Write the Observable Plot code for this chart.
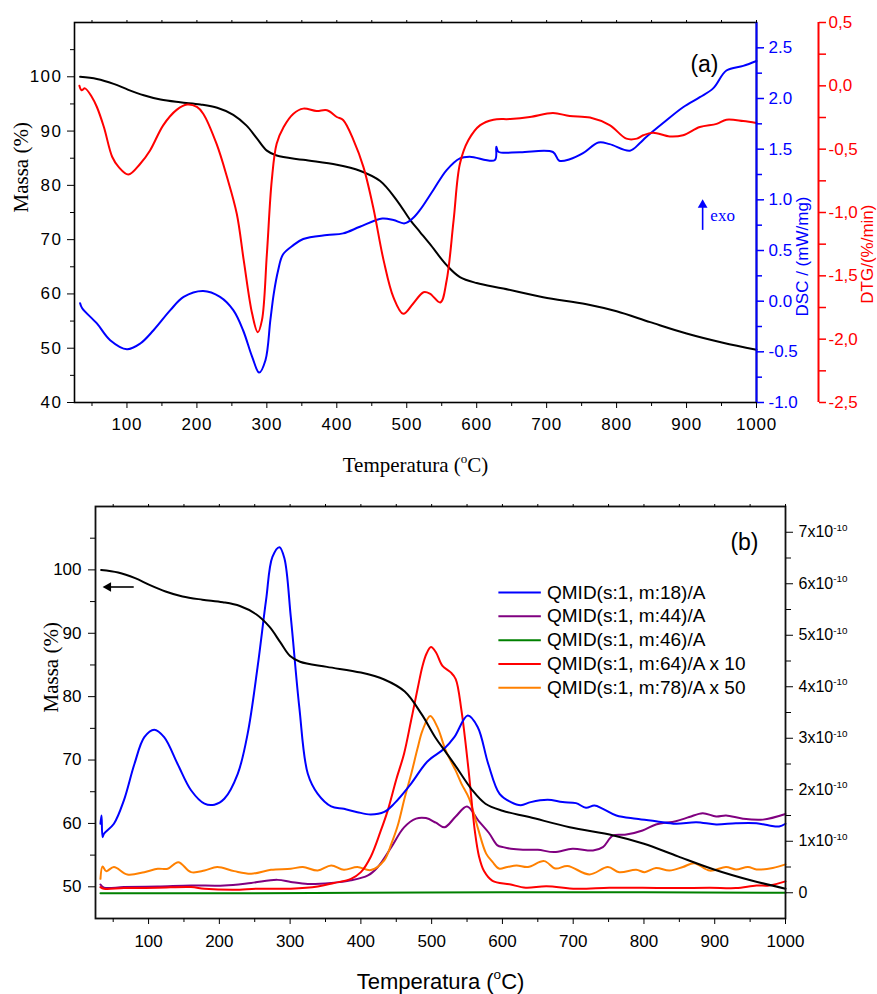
<!DOCTYPE html>
<html>
<head>
<meta charset="utf-8">
<script src="https://cdn.jsdelivr.net/npm/d3@7"></script>
<script src="https://cdn.jsdelivr.net/npm/@observablehq/plot@0.6"></script>
<style>
  body { margin: 0; background: #fff; }
  #chart { width: 877px; }
  #chart svg { display: block; }
</style>
</head>
<body>
<div id="chart"></div>
<script>
// ---------------- DATA ----------------
// Panel (a): TG (Massa %), DSC (mW/mg), DTG (%/min)
const tgTemp  = [33, 57, 81, 102, 124, 148, 176, 205, 229, 252, 271, 286, 300, 314, 352, 400, 433, 462, 486, 505, 519, 533, 557, 576, 600, 638, 695, 757, 800, 848, 900, 952, 1000];
const tgMassa = [100, 99.6, 98.7, 97.6, 96.6, 95.8, 95.3, 94.9, 94.3, 93.0, 91.0, 88.6, 86.4, 85.5, 84.7, 83.8, 82.7, 80.8, 77.2, 73.6, 71.4, 69.2, 65.3, 63.1, 62.0, 61.0, 59.4, 58.1, 56.8, 54.8, 52.7, 51.0, 49.7];

const dtgTemp = [32, 35, 40, 50, 57, 67, 79, 88, 102, 119, 133, 152, 171, 186, 200, 209, 228, 243, 257, 267, 279, 287, 293, 300, 307, 314, 324, 338, 352, 371, 386, 400, 409, 424, 438, 452, 467, 481, 495, 509, 524, 533, 548, 557, 567, 576, 588, 605, 624, 648, 676, 709, 733, 762, 790, 814, 829, 838, 852, 876, 895, 919, 943, 957, 981, 1000];
const dtgVal  = [0.0, -0.035, -0.02, -0.09, -0.167, -0.325, -0.562, -0.64, -0.70, -0.615, -0.51, -0.31, -0.19, -0.148, -0.167, -0.22, -0.457, -0.72, -1.01, -1.38, -1.80, -1.946, -1.85, -1.33, -0.747, -0.457, -0.325, -0.22, -0.18, -0.199, -0.193, -0.246, -0.27, -0.43, -0.64, -0.958, -1.38, -1.67, -1.80, -1.72, -1.63, -1.64, -1.71, -1.537, -1.06, -0.615, -0.43, -0.31, -0.267, -0.262, -0.246, -0.215, -0.238, -0.25, -0.31, -0.417, -0.417, -0.39, -0.37, -0.40, -0.39, -0.325, -0.30, -0.267, -0.278, -0.294];

const dscTemp = [33, 36, 57, 76, 100, 119, 138, 162, 181, 209, 233, 252, 266, 279, 289, 298, 305, 310, 316, 323, 338, 352, 386, 409, 433, 465, 481, 497, 509, 519, 538, 557, 576, 590, 626, 628, 631, 662, 709, 718, 733, 752, 774, 790, 819, 833, 842, 866, 895, 919, 938, 957, 981, 1000];
const dscVal  = [-0.02, -0.07, -0.22, -0.385, -0.474, -0.418, -0.287, -0.089, 0.042, 0.10, 0.042, -0.089, -0.287, -0.55, -0.705, -0.583, -0.188, 0.08, 0.30, 0.46, 0.553, 0.613, 0.652, 0.669, 0.734, 0.815, 0.80, 0.768, 0.82, 0.90, 1.097, 1.294, 1.41, 1.426, 1.393, 1.525, 1.475, 1.47, 1.472, 1.386, 1.40, 1.46, 1.565, 1.55, 1.485, 1.558, 1.617, 1.755, 1.914, 2.013, 2.10, 2.276, 2.322, 2.37];

// Panel (b): QMID ion currents (units of 1e-10 A)
const q18Temp = [32, 33.5, 35, 37, 51, 65, 80, 94, 108, 122, 141, 160, 179, 193, 207, 226, 240, 254, 266, 275, 285, 292, 301, 313, 325, 339, 358, 376, 395, 414, 433, 447, 471, 494, 518, 532, 551, 565, 580, 596, 612, 626, 640, 664, 685, 704, 718, 730, 742, 761, 789, 817, 845, 874, 902, 930, 959, 977, 991, 1000];
const q18Val  = [1.34, 1.50, 1.08, 1.146, 1.34, 1.79, 2.50, 3.02, 3.165, 3.02, 2.50, 1.99, 1.73, 1.71, 1.825, 2.31, 3.09, 4.38, 5.68, 6.52, 6.71, 6.49, 5.35, 3.60, 2.31, 1.92, 1.676, 1.63, 1.565, 1.52, 1.57, 1.73, 2.12, 2.55, 2.80, 3.02, 3.44, 3.22, 2.50, 1.92, 1.76, 1.70, 1.76, 1.805, 1.76, 1.74, 1.65, 1.695, 1.63, 1.50, 1.437, 1.39, 1.34, 1.37, 1.326, 1.35, 1.35, 1.307, 1.287, 1.34];

const q44Temp = [32, 37, 65, 113, 160, 207, 245, 282, 301, 325, 358, 386, 410, 424, 443, 461, 478, 492, 506, 518, 534, 550, 566, 581, 593, 601, 612, 629, 650, 673, 699, 728, 742, 756, 775, 798, 817, 845, 864, 883, 902, 916, 940, 968, 1000];
const q44Val  = [0.16, 0.10, 0.11, 0.12, 0.14, 0.14, 0.19, 0.25, 0.21, 0.17, 0.19, 0.24, 0.336, 0.50, 0.886, 1.27, 1.44, 1.45, 1.36, 1.27, 1.48, 1.675, 1.40, 1.16, 0.92, 0.886, 0.854, 0.835, 0.835, 0.79, 0.854, 0.82, 0.886, 1.11, 1.13, 1.21, 1.326, 1.39, 1.47, 1.546, 1.48, 1.50, 1.437, 1.42, 1.53];

const q46Temp = [32, 200, 400, 600, 800, 1000];
const q46Val  = [-0.01, -0.01, 0.0, 0.01, 0.01, 0.0];

const q64Temp = [32, 37, 65, 113, 160, 179, 221, 254, 301, 339, 362, 386, 400, 414, 428, 438, 450, 461, 471, 480, 487, 493, 499, 506, 515, 527, 534, 542, 552, 561, 567, 574, 586, 610, 633, 662, 704, 751, 798, 845, 893, 930, 959, 977, 1000];
const q64Val  = [0.11, 0.078, 0.09, 0.097, 0.11, 0.078, 0.058, 0.078, 0.078, 0.12, 0.19, 0.27, 0.40, 0.70, 1.2, 1.6, 2.2, 2.7, 3.35, 3.95, 4.4, 4.65, 4.77, 4.67, 4.41, 4.28, 4.15, 3.55, 2.4, 1.2, 0.7, 0.42, 0.23, 0.165, 0.097, 0.128, 0.078, 0.097, 0.097, 0.09, 0.097, 0.09, 0.14, 0.14, 0.22];

const q78Temp = [32, 35, 40, 51, 70, 94, 113, 127, 142, 160, 179, 197, 221, 245, 273, 301, 318, 339, 358, 376, 395, 414, 433, 443, 452, 462, 471, 480, 487, 498, 508, 520, 534, 542, 553, 565, 577, 586, 595, 607, 620, 636, 659, 675, 692, 723, 749, 765, 789, 801, 817, 836, 855, 871, 893, 916, 930, 947, 959, 982, 1000];
const q78Val  = [0.27, 0.51, 0.42, 0.50, 0.355, 0.40, 0.466, 0.466, 0.594, 0.40, 0.43, 0.50, 0.42, 0.37, 0.446, 0.466, 0.50, 0.43, 0.53, 0.446, 0.50, 0.44, 0.63, 0.95, 1.3, 1.85, 2.3, 2.8, 3.15, 3.43, 3.22, 2.76, 2.37, 2.12, 1.83, 1.27, 0.76, 0.60, 0.47, 0.50, 0.53, 0.50, 0.614, 0.47, 0.52, 0.355, 0.50, 0.40, 0.446, 0.40, 0.48, 0.43, 0.50, 0.575, 0.43, 0.50, 0.453, 0.50, 0.453, 0.48, 0.55];

const seriesNames  = ["QMID(s:1, m:18)/A", "QMID(s:1, m:44)/A", "QMID(s:1, m:46)/A", "QMID(s:1, m:64)/A x 10", "QMID(s:1, m:78)/A x 50"];
const seriesColors = ["#0000ff", "#800080", "#008000", "#ff0000", "#ff8000"];

// tick values
const xMajor = d3.range(100, 1001, 100);
const xMinor = d3.range(50, 1000, 100);
const massaTicksA = d3.range(40, 101, 10);
const massaMinorA = d3.range(45, 110, 10);
const dscTicks = [-1.0, -0.5, 0.0, 0.5, 1.0, 1.5, 2.0, 2.5];
const dscMinor = [-0.75, -0.25, 0.25, 0.75, 1.25, 1.75, 2.25];
const dtgTicks = [-2.5, -2.0, -1.5, -1.0, -0.5, 0.0, 0.5];
const dtgMinor = [-2.25, -1.75, -1.25, -0.75, -0.25, 0.25];
const massaTicksB = d3.range(50, 101, 10);
const massaMinorB = d3.range(55, 110, 10);
const qTicks = [0, 1, 2, 3, 4, 5, 6, 7];
const qMinor = [0.5, 1.5, 2.5, 3.5, 4.5, 5.5, 6.5];

// ---------------- SETUP ----------------
const SANS = "'Liberation Sans', Arial, Helvetica, sans-serif";
const SERIF = "'Liberation Serif', 'Times New Roman', serif";
const BLUE = "#0000ff", RED = "#ff0000";
const X_DOMAIN = [25, 1000];
const massaA = [40, 110];
const massaB = [45, 110];
const fDSC = d3.scaleLinear([-1, 2.75], massaA);   // DSC -> Massa axis (a)
const fDTG = d3.scaleLinear([-2.5, 0.5], massaA);  // DTG -> Massa axis (a)
const fQ   = d3.scaleLinear([-0.5, 7.5], massaB);  // ion current -> Massa axis (b)

const rows = (ts, vs) => ts.map((t, i) => ({t, v: vs[i]}));
const tgRows = rows(tgTemp, tgMassa);
const dtgRows = rows(dtgTemp, dtgVal);
const dscRows = rows(dscTemp, dscVal);
const qSeries = [
  rows(q18Temp, q18Val), rows(q44Temp, q44Val), rows(q46Temp, q46Val),
  rows(q64Temp, q64Val), rows(q78Temp, q78Val)
];

const clean = v => Math.round(v * 100) / 100;
const fmtX = d => String(d);

// annotations (data units)
const exoArrow = [{t: 923, m1: 71.8, m2: 76.4}];
const exoLabel = [{t: 934, m: 73.5, s: "exo"}];
const massArrow = [{t1: 79, t2: 43, m: 97.3}];
const LEG_TOP = 96.43, LEG_STEP = 3.76, LEG_X1 = 595, LEG_X2 = 655, LEG_TX = 663;
const legendRows = seriesNames.map((name, i) => ({name, color: seriesColors[i], m: LEG_TOP - i * LEG_STEP}));

// ---------------- PANEL (a) ----------------
const plotA = Plot.plot({
  width: 877, height: 480,
  marginLeft: 74, marginRight: 121, marginTop: 22, marginBottom: 78,
  style: {fontFamily: SANS, fontSize: "17px", background: "white", color: "black", overflow: "visible"},
  x: {domain: X_DOMAIN},
  y: {domain: massaA},
  marks: [
    Plot.line(tgRows, {x: "t", y: "v", stroke: "black", strokeWidth: 2, curve: "catmull-rom"}),
    Plot.line(dscRows, {x: "t", y: d => fDSC(d.v), stroke: BLUE, strokeWidth: 2, curve: "catmull-rom"}),
    Plot.line(dtgRows, {x: "t", y: d => fDTG(d.v), stroke: RED, strokeWidth: 2, curve: "catmull-rom"}),
    Plot.frame({stroke: "black", strokeWidth: 1.6}),
    Plot.ruleX([X_DOMAIN[1]], {stroke: BLUE, strokeWidth: 2}),
    Plot.ruleX([X_DOMAIN[1]], {stroke: RED, strokeWidth: 2, dx: 62}),
    // left axis
    Plot.axisY(massaTicksA, {anchor: "left", tickSize: 7, tickPadding: 5, fontSize: 17, label: null}),
    Plot.axisY(massaMinorA, {anchor: "left", tickSize: 4, fill: "none", label: null}),
    // bottom / top axis
    Plot.axisX(xMajor, {anchor: "bottom", tickSize: 6, tickPadding: 9, fontSize: 17, tickFormat: fmtX, label: null}),
    Plot.axisX(xMinor, {anchor: "bottom", tickSize: 4, fill: "none", label: null}),
    Plot.axisX(xMajor.concat(xMinor), {anchor: "top", tickSize: 3, fill: "none", label: null}),
    // DSC axis
    Plot.axisY(dscTicks.map(fDSC), {anchor: "right", tickSize: 7, tickPadding: 5, stroke: BLUE, fill: BLUE, strokeWidth: 1.5, fontSize: 17,
      tickFormat: d => clean(fDSC.invert(d)).toFixed(1), label: null}),
    Plot.axisY(dscMinor.map(fDSC), {anchor: "right", tickSize: 5, stroke: BLUE, fill: "none", strokeWidth: 1.5, label: null}),
    // DTG axis
    Plot.axisY(dtgTicks.map(fDTG), {anchor: "right", dx: 62, tickSize: 7, tickPadding: 3, stroke: RED, fill: RED, strokeWidth: 1.5, fontSize: 17,
      tickFormat: d => clean(fDTG.invert(d)).toFixed(1).replace(".", ","), label: null}),
    Plot.axisY(dtgMinor.map(fDTG), {anchor: "right", dx: 62, tickSize: 7, stroke: RED, fill: "none", strokeWidth: 1.5, label: null}),
    // titles
    Plot.text(["Massa (%)"], {text: d => d, frameAnchor: "left", dx: -53, rotate: -90, fontFamily: SERIF, fontSize: 21}),
    Plot.text(["Temperatura (^o^C)"], {text: d => d, frameAnchor: "bottom", dy: 69, lineAnchor: "bottom", fontFamily: SERIF, fontSize: 21}),
    Plot.text(["DSC / (mW/mg)"], {text: d => d, frameAnchor: "right", dx: 46, dy: -16, rotate: -90, fill: BLUE, fontSize: 17}),
    Plot.text(["DTG/(%/min)"], {text: d => d, frameAnchor: "right", dx: 111, dy: -8, rotate: -90, fill: RED, fontSize: 17}),
    Plot.text(["(a)"], {text: d => d, frameAnchor: "top-right", dx: -38, dy: 33, fontSize: 23}),
    // exo arrow
    Plot.link(exoArrow, {x1: "t", x2: "t", y1: "m1", y2: "m2", stroke: BLUE, strokeWidth: 1.6}),
    Plot.dot(exoArrow, {x: "t", y: "m2", symbol: "triangle", r: 3.6, fill: BLUE, stroke: "none"}),
    Plot.text(exoLabel, {x: "t", y: "m", text: "s", textAnchor: "start", lineAnchor: "bottom", fill: BLUE, fontFamily: SERIF, fontSize: 17})
  ]
});

// ---------------- PANEL (b) ----------------
const plotB = Plot.plot({
  width: 877, height: 514,
  marginLeft: 95, marginRight: 92, marginTop: 26, marginBottom: 76,
  style: {fontFamily: SANS, fontSize: "17px", background: "white", color: "black", overflow: "visible"},
  x: {domain: X_DOMAIN},
  y: {domain: massaB},
  color: {type: "identity"},
  marks: [
    ...[2, 1, 4, 3, 0].map(i => Plot.line(qSeries[i], {x: "t", y: d => fQ(d.v), stroke: seriesColors[i], strokeWidth: 2, curve: "catmull-rom"})),
    Plot.line(tgRows, {x: "t", y: "v", stroke: "black", strokeWidth: 2, curve: "catmull-rom"}),
    Plot.frame({stroke: "#111", strokeWidth: 1.8}),
    // left axis
    Plot.axisY(massaTicksB, {anchor: "left", tickSize: 7, tickPadding: 7, fontSize: 17, label: null}),
    Plot.axisY(massaMinorB, {anchor: "left", tickSize: 5, fill: "none", label: null}),
    // bottom / top
    Plot.axisX(xMajor, {anchor: "bottom", tickSize: 6, tickPadding: 10, fontSize: 17, tickFormat: fmtX, label: null}),
    Plot.axisX(xMinor, {anchor: "bottom", tickSize: 4, fill: "none", label: null}),
    Plot.axisX(xMajor.concat(xMinor), {anchor: "top", tickSize: 3, fill: "none", label: null}),
    // right axis
    Plot.axisY(qTicks.map(fQ), {anchor: "right", tickSize: 7, tickPadding: 6, fontSize: 16,
      tickFormat: d => { const v = Math.round(fQ.invert(d)); return v === 0 ? "0" : `${v}x10^-10`; }, label: null}),
    Plot.axisY(qMinor.map(fQ), {anchor: "right", tickSize: 5, fill: "none", label: null}),
    // titles
    Plot.text(["Massa (%)"], {text: d => d, frameAnchor: "left", dx: -44, rotate: -90, fontFamily: SERIF, fontSize: 21}),
    Plot.text(["Temperatura (^o^C)"], {text: d => d, frameAnchor: "bottom", dy: 70, lineAnchor: "bottom", fontSize: 22}),
    Plot.text(["(b)"], {text: d => d, frameAnchor: "top-right", dx: -27, dy: 27, fontSize: 23}),
    // legend
    Plot.ruleY(legendRows, {y: "m", x1: LEG_X1, x2: LEG_X2, stroke: d => d.color, strokeWidth: 2}),
    Plot.text(legendRows, {x: LEG_TX, y: "m", text: "name", textAnchor: "start", fontSize: 19}),
    // mass arrow
    Plot.link(massArrow, {x1: "t1", x2: "t2", y1: "m", y2: "m", stroke: "black", strokeWidth: 1.6}),
    Plot.dot(massArrow, {x: "t2", y: "m", symbol: "triangle", r: 3.6, fill: "black", stroke: "none", rotate: -90})
  ]
});

const root = document.getElementById("chart");
root.append(plotA, plotB);

// superscript handling: parts between ^ markers are raised
function applySup(svg) {
  d3.select(svg).selectAll("text").each(function () {
    const t = this.textContent;
    if (!t.includes("^")) return;
    const parts = t.split("^");
    const fs = parseFloat(getComputedStyle(this).fontSize) || 17;
    const sel = d3.select(this);
    sel.text(null);
    let shift = 0;
    parts.forEach((p, i) => {
      if (!p) return;
      const ts = sel.append("tspan").text(p);
      if (i % 2 === 1) {
        ts.attr("font-size", (fs * 0.62).toFixed(1)).attr("dy", (-fs * 0.42).toFixed(1));
        shift = fs * 0.42;
      } else if (shift) {
        ts.attr("dy", shift.toFixed(1));
        shift = 0;
      }
    });
  });
}
applySup(plotA);
applySup(plotB);

// panel (a) tick numerals are drawn slightly wider in the original
d3.select(plotA).selectAll("g[aria-label='y-axis tick label']")
  .filter(function () { return this.getAttribute("text-anchor") === "end"; })
  .style("letter-spacing", "1.5px");
d3.select(plotA).selectAll("g[aria-label='x-axis tick label']")
  .style("letter-spacing", "0.8px");
</script>
</body>
</html>
